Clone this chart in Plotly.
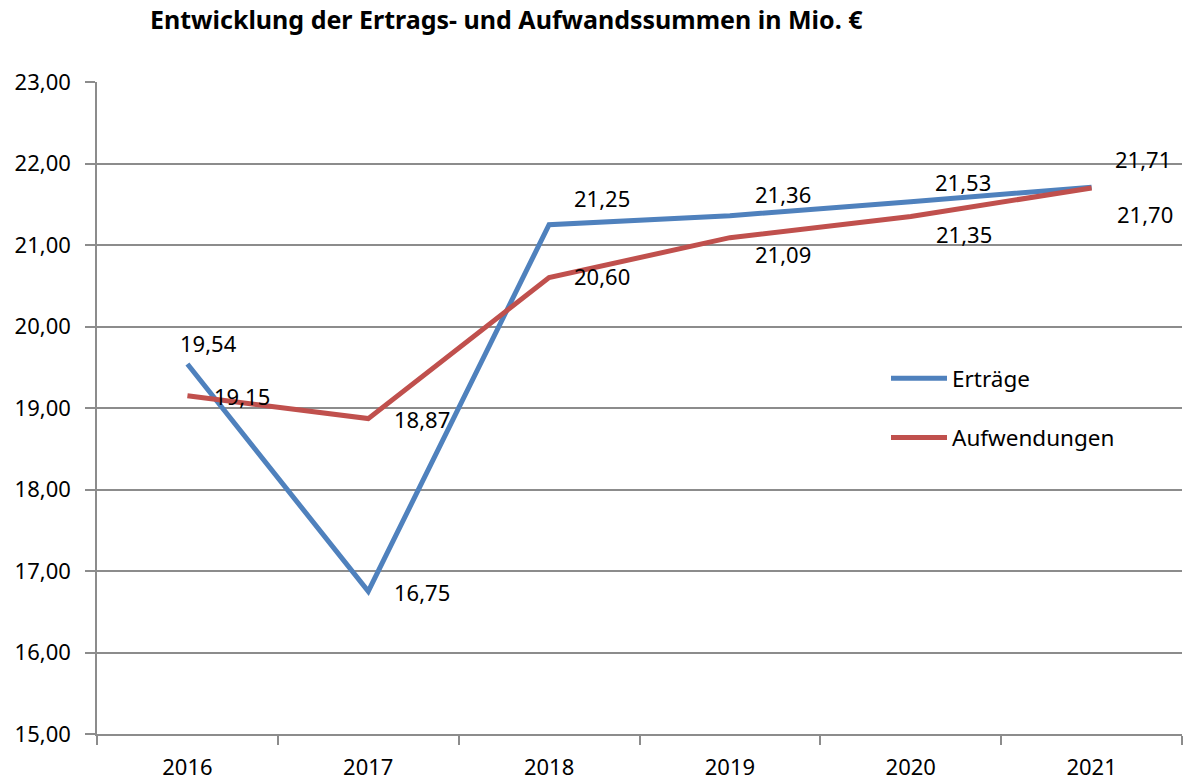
import plotly.graph_objects as pog

# data
years = ['2016', '2017', '2018', '2019', '2020', '2021']
ertraege = [19.54, 16.75, 21.25, 21.36, 21.53, 21.71]
aufwendungen = [19.15, 18.87, 20.60, 21.09, 21.35, 21.70]
y_ticks = [15, 16, 17, 18, 19, 20, 21, 22, 23]

# pixel offsets of the data labels (xshift, yshift), Excel-style manual placement
ertraege_label_shift = [(-9, 21), (24, -1), (23, 27), (23, 22), (22, 20), (21, 28)]
aufwendungen_label_shift = [(25, 0), (24, 0), (23, 2), (23, -16), (23, -18), (23, -26)]

FONT = "Noto Sans"
BLUE = "#4F81BD"
RED = "#C0504D"
GRID = "#8C8C8C"


def de(v):
    # german number format with comma
    return f"{v:.2f}".replace('.', ',')


fig = pog.Figure()
fig.add_trace(pog.Scatter(x=years, y=ertraege, name="Erträge", mode="lines",
                          line=dict(color=BLUE, width=5), legendgroup="a"))
fig.add_trace(pog.Scatter(x=years, y=aufwendungen, name="Aufwendungen", mode="lines",
                          line=dict(color=RED, width=5), legendgroup="b"))

annotations = []
for vals, shifts in [(ertraege, ertraege_label_shift), (aufwendungen, aufwendungen_label_shift)]:
    # numeric category index, a string like '2016' would be read as a number
    for i, (v, (dx, dy)) in enumerate(zip(vals, shifts)):
        annotations.append(dict(x=i, y=v, text=de(v), showarrow=False,
                                xanchor="left", yanchor="middle",
                                xshift=dx, yshift=dy,
                                font=dict(family=FONT, size=22, color="black")))

annotations.append(dict(text="<b>Entwicklung der Ertrags- und Aufwandssummen in Mio. €</b>",
                        xref="paper", yref="paper", x=(148 - 97) / 1085, y=1,
                        xanchor="left", yanchor="bottom", yshift=44, showarrow=False,
                        font=dict(family=FONT, size=25, color="black")))

fig.update_layout(
    width=1184, height=780,
    margin=dict(l=97, r=2, t=82, b=46),
    paper_bgcolor="white", plot_bgcolor="white",
    separators=",.",
    font=dict(family=FONT, size=22, color="black"),
    annotations=annotations,
    legend=dict(x=(886 - 97) / 1085, y=(734 - 357) / 652, xanchor="left", yanchor="top",
                font=dict(family=FONT, size=22.5, color="black"),
                tracegroupgap=27, itemwidth=56, bgcolor="rgba(0,0,0,0)"),
    showlegend=True,
)
fig.update_xaxes(type="category", range=[-0.5, 5.5], tickson="boundaries",
                 ticks="outside", ticklen=9, tickcolor=GRID, tickwidth=1.5,
                 showline=True, linecolor=GRID, linewidth=1.5, showgrid=False,
                 automargin=False,
                 ticklabelstandoff=13, tickfont=dict(family=FONT, size=22, color="black"))
fig.update_yaxes(range=[15, 23], tickvals=y_ticks, tickformat=".2f",
                 ticks="outside", ticklen=10, tickcolor=GRID, tickwidth=1.5,
                 showline=True, linecolor=GRID, linewidth=1.5,
                 showgrid=True, gridcolor=GRID, gridwidth=1.5, zeroline=False,
                 automargin=False,
                 ticklabelstandoff=10, tickfont=dict(family=FONT, size=22, color="black"))

fig.write_html("out.html", config={"displayModeBar": False},
               post_script="document.body.style.margin='0';")
